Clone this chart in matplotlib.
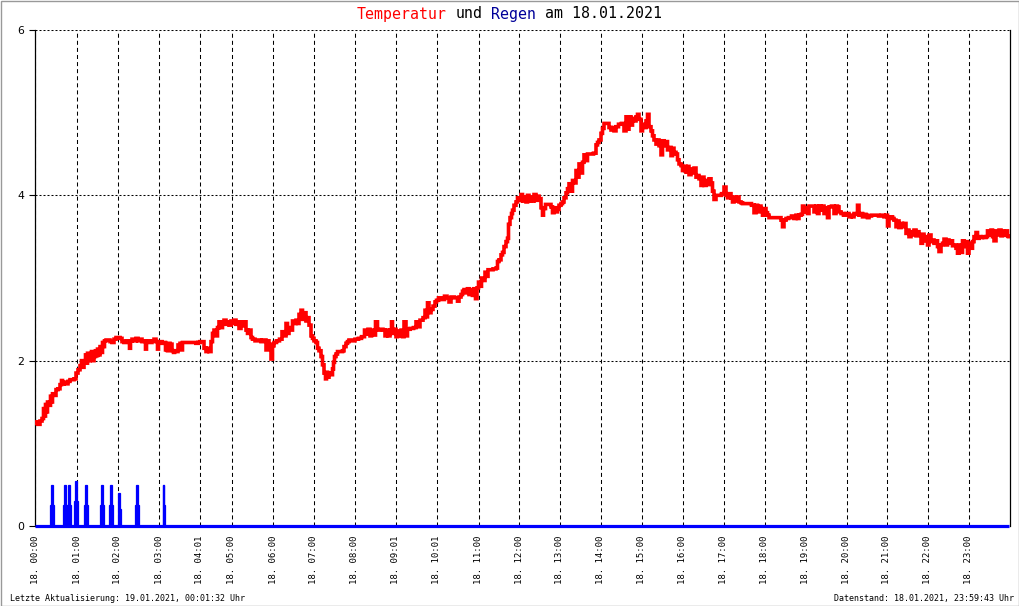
import numpy as np
import matplotlib
matplotlib.use("Agg")
import matplotlib.pyplot as plt
from matplotlib.patches import Rectangle

plt.rcParams['lines.scale_dashes'] = False

# ---------------- data ----------------
tick_idx = [0, 42, 83, 124, 165, 197, 238, 279, 320, 361, 402, 444, 484,
            525, 566, 607, 648, 689, 730, 771, 812, 852, 893, 934]
tick_times = ["00:00", "01:00", "02:00", "03:00", "04:01", "05:00", "06:00",
              "07:00", "08:00", "09:01", "10:01", "11:00", "12:00", "13:00",
              "14:00", "15:00", "16:00", "17:00", "18:00", "19:00", "20:00",
              "21:00", "22:00", "23:00"]
day_label = "18."

temp_idx = [
    0, 2, 4, 6, 8, 9, 10, 11, 12, 13, 15, 16, 17, 18, 20, 22, 24, 26, 27, 28, 30, 32, 34,
    36, 38, 40, 42, 44, 46, 47, 48, 50, 51, 52, 53, 54, 56, 57, 58, 60, 61, 62, 63, 64, 66,
    67, 68, 69, 70, 72, 74, 76, 78, 80, 82, 84, 86, 88, 90, 92, 94, 95, 96, 98, 100, 102,
    104, 106, 108, 110, 111, 112, 114, 116, 118, 120, 122, 123, 124, 126, 128, 130, 131,
    132, 133, 134, 136, 138, 139, 140, 142, 144, 146, 147, 148, 150, 152, 154, 156, 158,
    160, 162, 164,
    166, 168, 170, 172, 173, 175, 177, 178, 180, 182, 183, 185, 187, 188, 190, 192, 193,
    195, 197, 198, 200, 202, 203, 205, 207, 208, 210, 212, 213, 215, 217, 218, 222, 225,
    227, 228, 230, 232, 233, 235, 237, 238, 240, 243, 246, 248, 250, 252, 253, 255, 257,
    258, 260, 262, 263, 265, 267, 268, 270, 272, 273, 275, 277, 278, 280, 282, 283, 285,
    287, 288, 290, 291, 292, 293, 295, 297, 298, 299, 300, 302, 303, 307, 308, 310, 312,
    313, 315, 318, 322, 325, 328, 331, 332, 334, 336, 337, 339, 342, 343, 347, 349, 351,
    352, 354, 356, 357, 358, 360, 362, 363, 365, 367, 368, 370, 372, 373, 377, 380, 382,
    383, 387, 389, 391, 392, 393, 395, 397, 399, 401, 402, 405, 408, 411, 413, 415, 417,
    422, 423, 425, 427, 428, 430, 432, 433, 435, 437, 438, 440, 441, 443, 444, 446, 447,
    449, 451, 452, 454, 457, 459,
    460, 462, 463, 465, 467, 468, 470, 472, 473, 474, 476, 477, 478, 480, 482, 483, 485,
    487, 488, 490, 492, 493, 495, 497, 498, 500, 502, 503, 505, 507, 508, 509, 512, 515,
    517, 518, 520, 522, 523, 525, 527, 528, 530, 532, 533, 535, 537, 538, 540, 542, 543,
    545, 547, 548, 550, 552, 553, 557, 560, 562, 563, 565, 567, 568, 570, 573, 575, 577,
    578, 580, 582, 585, 588, 590, 592, 593, 595, 597, 598, 600, 602, 603, 605, 607, 608,
    610, 612, 613, 615, 617, 618, 620, 622, 623, 625, 627, 628, 630, 632, 633, 635, 637,
    638, 640, 642, 643, 645, 647, 648, 650, 652, 653, 655, 657, 658, 660, 662, 663, 665,
    667, 668, 670, 672, 673, 675, 677, 678, 680, 682, 685, 688, 690, 692, 693, 695, 697,
    698, 700, 702, 703, 705, 707, 708,
    712, 715, 718, 720, 722, 723, 725, 727, 728, 730, 732, 733, 735, 738, 742, 745, 747,
    748, 750, 752, 755, 758, 760, 762, 763, 765, 767, 768, 770, 772, 773, 775, 778, 780,
    782, 783, 785, 787, 788, 790, 792, 793, 795, 798, 800, 802, 803, 805, 807, 810, 813,
    815, 817, 818, 820, 822, 823, 825, 827, 828, 830, 832, 833, 835, 838, 842, 845, 848,
    850, 852, 853, 855, 857, 858, 860, 862, 863, 865, 867, 868, 870, 872, 873, 875, 877,
    878, 880, 882, 883, 885, 887, 888, 890, 892, 893, 895, 897, 898, 900, 902, 903, 905,
    907, 908, 910, 912, 913, 915, 917, 918, 920, 922, 923, 925, 927, 928, 930, 932, 933,
    935, 937, 938, 940, 942, 943, 945, 947, 948, 950, 952, 953, 955, 957, 958, 960, 962,
    963, 965, 967, 968, 970, 972, 973, 974]

temp_val = [
    1.24, 1.26, 1.23, 1.27, 1.30, 1.42, 1.33, 1.47, 1.38, 1.50, 1.46, 1.57, 1.50, 1.60, 1.58,
    1.65, 1.66, 1.71, 1.76, 1.72, 1.74, 1.72, 1.75, 1.77, 1.77, 1.78, 1.85, 1.89, 1.94, 2.00,
    1.92, 1.97, 2.07, 1.97, 2.09, 2.00, 2.07, 2.11, 2.00, 2.05, 2.12, 2.06, 2.14, 2.07, 2.17,
    2.10, 2.22, 2.17, 2.24, 2.25, 2.25, 2.23, 2.22, 2.26, 2.28, 2.28, 2.27, 2.23, 2.22, 2.24,
    2.23, 2.15, 2.24, 2.26, 2.24, 2.27, 2.24, 2.26, 2.23, 2.24, 2.14, 2.24, 2.24, 2.22, 2.24,
    2.26, 2.23, 2.14, 2.22, 2.23, 2.21, 2.22, 2.13, 2.20, 2.12, 2.21, 2.20, 2.12, 2.10, 2.12,
    2.11, 2.19, 2.21, 2.13, 2.22, 2.22, 2.22, 2.22, 2.22, 2.22, 2.22, 2.21, 2.22,
    2.23, 2.23, 2.15, 2.11, 2.15, 2.11, 2.23, 2.33, 2.37, 2.30, 2.40, 2.47, 2.40, 2.47, 2.49,
    2.44, 2.47, 2.43, 2.48, 2.45, 2.49, 2.44, 2.47, 2.39, 2.47, 2.42, 2.47, 2.37, 2.33, 2.37,
    2.28, 2.26, 2.24, 2.25, 2.23, 2.25, 2.25, 2.13, 2.24, 2.20, 2.02, 2.18, 2.22, 2.24, 2.26,
    2.35, 2.30, 2.45, 2.33, 2.40, 2.37, 2.48, 2.45, 2.49, 2.45, 2.56, 2.61, 2.50, 2.58, 2.48,
    2.52, 2.43, 2.30, 2.27, 2.24, 2.22, 2.15, 2.12, 2.05, 1.95, 1.85, 1.78, 1.86, 1.80, 1.85,
    1.83, 1.90, 1.98, 2.05, 2.08, 2.11, 2.11, 2.12, 2.17, 2.21, 2.23, 2.25, 2.24, 2.26, 2.27,
    2.29, 2.37, 2.32, 2.38, 2.30, 2.37, 2.31, 2.47, 2.37, 2.38, 2.37, 2.30, 2.37, 2.30, 2.37,
    2.47, 2.33, 2.38, 2.29, 2.36, 2.30, 2.37, 2.29, 2.47, 2.30, 2.38, 2.39, 2.40, 2.47, 2.41,
    2.49, 2.52, 2.61, 2.53, 2.70, 2.58, 2.62, 2.66, 2.71, 2.73, 2.76, 2.74, 2.78, 2.76, 2.71,
    2.77, 2.76, 2.72, 2.77, 2.80, 2.84, 2.86, 2.82, 2.87, 2.80, 2.86, 2.79, 2.87, 2.75, 2.88,
    2.95, 2.90, 3.00, 2.97, 3.07, 3.02, 3.10, 3.10, 3.11,
    3.11, 3.12, 3.20, 3.22, 3.28, 3.31, 3.38, 3.44, 3.48, 3.65, 3.73, 3.78, 3.82, 3.88, 3.92,
    3.97, 3.94, 4.01, 3.93, 3.98, 3.92, 4.00, 3.93, 3.98, 3.93, 4.01, 3.94, 3.99, 3.96, 3.85,
    3.76, 3.84, 3.89, 3.89, 3.86, 3.79, 3.85, 3.80, 3.83, 3.88, 3.90, 3.92, 3.97, 4.03, 4.08,
    4.14, 4.05, 4.18, 4.15, 4.30, 4.22, 4.38, 4.27, 4.40, 4.49, 4.42, 4.50, 4.50, 4.51, 4.61,
    4.64, 4.67, 4.75, 4.81, 4.87, 4.87, 4.82, 4.79, 4.82, 4.78, 4.83, 4.86, 4.87, 4.78, 4.95,
    4.80, 4.95, 4.85, 4.93, 4.90, 4.95, 4.98, 4.92, 4.78, 4.86, 4.82, 4.90, 4.98, 4.83, 4.78,
    4.72, 4.67, 4.62, 4.67, 4.60, 4.49, 4.66, 4.60, 4.65, 4.55, 4.58, 4.48, 4.57, 4.52, 4.50,
    4.43, 4.38, 4.36, 4.30, 4.35, 4.28, 4.35, 4.25, 4.32, 4.27, 4.33, 4.22, 4.24, 4.20, 4.12,
    4.22, 4.12, 4.18, 4.13, 4.20, 4.15, 4.05, 3.95, 4.00, 4.00, 4.02, 4.10, 4.00, 3.97, 4.02,
    3.97, 3.92, 3.98, 3.93, 3.98, 3.92, 3.91, 3.90,
    3.90, 3.90, 3.88, 3.79, 3.88, 3.80, 3.87, 3.82, 3.76, 3.84, 3.79, 3.76, 3.73, 3.73, 3.73,
    3.73, 3.70, 3.62, 3.70, 3.72, 3.73, 3.75, 3.72, 3.76, 3.72, 3.76, 3.77, 3.87, 3.80, 3.85,
    3.78, 3.87, 3.87, 3.80, 3.87, 3.78, 3.87, 3.82, 3.87, 3.78, 3.85, 3.73, 3.86, 3.87, 3.78,
    3.87, 3.86, 3.80, 3.78, 3.76, 3.78, 3.74, 3.76, 3.74, 3.78, 3.77, 3.88, 3.76, 3.78, 3.74,
    3.77, 3.76, 3.73, 3.75, 3.76, 3.76, 3.75, 3.76, 3.74, 3.76, 3.63, 3.73, 3.74, 3.72, 3.70,
    3.62, 3.69, 3.61, 3.66, 3.62, 3.66, 3.54, 3.58, 3.50, 3.56, 3.52, 3.58, 3.51, 3.56, 3.52,
    3.42, 3.53, 3.45, 3.50, 3.40, 3.52, 3.44, 3.46, 3.42, 3.45, 3.38, 3.32, 3.40, 3.42, 3.47,
    3.40, 3.46, 3.42, 3.45, 3.39, 3.40, 3.36, 3.30, 3.40, 3.31, 3.45, 3.38, 3.44, 3.30, 3.42,
    3.36, 3.44, 3.50, 3.55, 3.48, 3.50, 3.49, 3.50, 3.49, 3.50, 3.57, 3.52, 3.58, 3.50, 3.45,
    3.57, 3.52, 3.58, 3.51, 3.57, 3.52, 3.57, 3.51, 3.50]

rain_idx = [15, 16, 17, 18,
            28, 29, 30, 31,
            32, 33, 34, 35,
            39, 40, 41, 42,
            49, 50, 51, 52,
            66, 67, 68, 69,
            75, 76, 77, 78,
            84, 85, 86,
            100, 101, 102, 103,
            128, 129, 130]
rain_val = [0.25, 0.5, 0.5, 0.25,
            0.25, 0.5, 0.5, 0.25,
            0.25, 0.5, 0.5, 0.25,
            0.3, 0.55, 0.55, 0.3,
            0.25, 0.5, 0.5, 0.25,
            0.25, 0.5, 0.5, 0.25,
            0.25, 0.5, 0.5, 0.25,
            0.4, 0.4, 0.2,
            0.25, 0.5, 0.5, 0.25,
            0.5, 0.5, 0.25]
n_samples = 975

title_parts = [("Temperatur", "#ff0000"), ("und", "#000000"),
               ("Regen", "#000099"), ("am 18.01.2021", "#000000")]
footer_left = "Letzte Aktualisierung: 19.01.2021, 00:01:32 Uhr"
footer_right = "Datenstand: 18.01.2021, 23:59:43 Uhr"

# ---------------- figure ----------------
W, H = 1020, 606
fig = plt.figure(figsize=(W / 100, H / 100), dpi=100)
fig.patch.set_facecolor("white")
ax = fig.add_axes([35 / W, (H - 526) / H, 975 / W, 496 / H])
ax.set_xlim(0, n_samples)
ax.set_ylim(0, 6)

mono = "DejaVu Sans Mono"

# grid
for xi in tick_idx:
    ax.axvline(xi, color="black", lw=0.75, linestyle=(0, (2.9, 2.2)), zorder=1)
for yv in [2, 4, 6]:
    ax.axhline(yv, color="black", lw=0.75, linestyle=(0, (1.44, 1.44)), zorder=1)

# rain
rain = np.zeros(n_samples)
rain[np.array(rain_idx)] = rain_val
xs = np.arange(n_samples)
ax.bar(xs[rain > 0], rain[rain > 0], width=1.0, color="#0000ff",
       edgecolor="#0000ff", linewidth=0.9, zorder=3)
ax.plot(xs, np.where(rain > 0, 0, rain), color="#0000ff",
        lw=2.3, solid_capstyle="butt", zorder=3, clip_on=False)

# temperature
ax.plot(temp_idx, temp_val, color="#ff0000", lw=2.6, drawstyle="steps-mid",
        solid_joinstyle="miter", zorder=4)

# spines
for s in ["top", "bottom"]:
    ax.spines[s].set_visible(False)
ax.spines["left"].set_linewidth(0.9)
ax.spines["right"].set_linewidth(0.9)

ax.set_xticks(tick_idx)
ax.set_xticklabels([f"{day_label} {t}" for t in tick_times], rotation=90,
                   family=mono, fontsize=6.5)
ax.tick_params(axis="x", length=0, pad=7)
ax.set_yticks([0, 2, 4, 6])
ax.set_yticklabels(["0", "2", "4", "6"], fontsize=7.8)
ax.tick_params(axis="y", length=4, width=0.8, pad=4, right=False)

# title (multi-coloured, monospace pieces placed by character cell)
title_fs = 10.7
char_px = 0.602 * title_fs * 100 / 72
x_px = 357.0
for txt, col in title_parts:
    fig.text(x_px / W, (H - 18.5) / H, txt, color=col, family=mono,
             fontsize=title_fs, ha="left", va="baseline")
    x_px += (len(txt) + 1) * char_px

fig.text(10 / W, (H - 601) / H, footer_left, family=mono, fontsize=6.0,
         ha="left", va="baseline")
fig.text(1014 / W, (H - 601) / H, footer_right, family=mono, fontsize=6.0,
         ha="right", va="baseline")

# outer frame
fig.patches.append(Rectangle((0.5 / W, 0.5 / H), (W - 1.5) / W, (H - 1.5) / H,
                             transform=fig.transFigure, fill=False,
                             edgecolor="#999999", lw=1.0))

fig.savefig("out.png", dpi=100)
